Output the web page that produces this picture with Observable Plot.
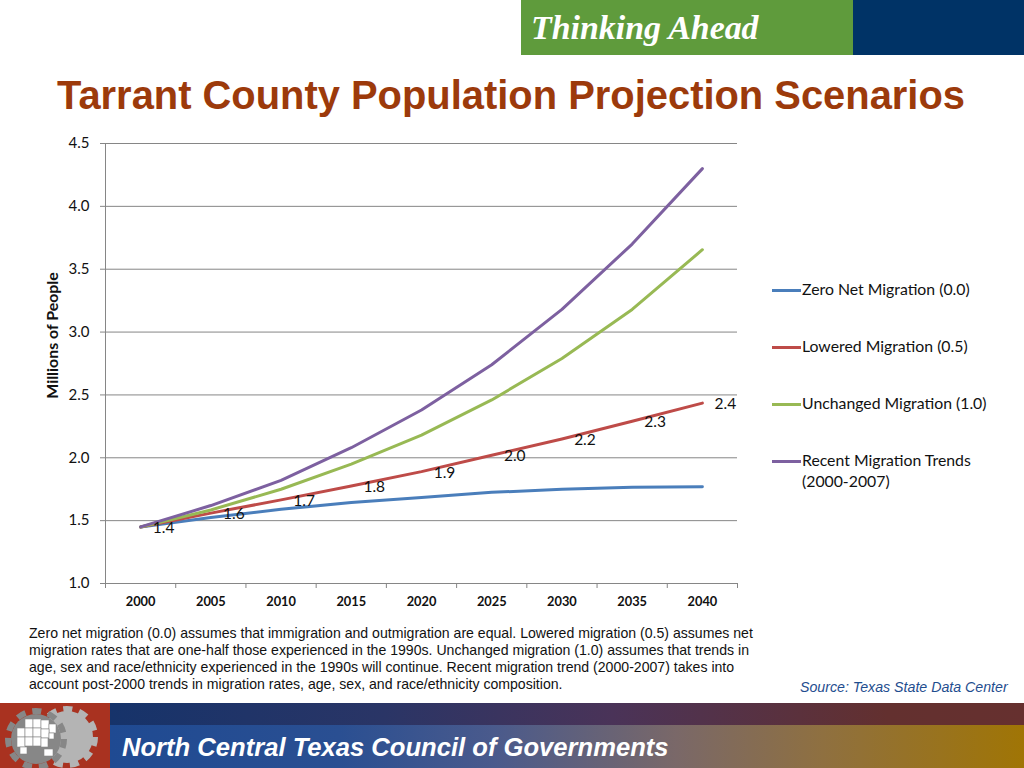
<!DOCTYPE html>
<html><head><meta charset="utf-8">
<script src="https://cdn.jsdelivr.net/npm/d3@7"></script>
<script src="https://cdn.jsdelivr.net/npm/@observablehq/plot@0.6"></script>
<style>
html,body{margin:0;padding:0;background:#fff;width:1024px;height:768px;overflow:hidden}
.a{position:absolute;white-space:nowrap}
#chart{position:absolute;left:0;top:130px}
#chart svg{display:block;background:transparent}
.leg{position:absolute;left:802px;font:15.8px/21px Lato,sans-serif;color:#111}
.sw{position:absolute;left:772px;width:29px;height:3px}
</style></head><body>
<div class="a" style="left:521px;top:0;width:332px;height:55px;background:#5f9b3c"></div>
<div class="a" style="left:853px;top:0;width:171px;height:55px;background:#003366"></div>
<div class="a" style="left:531px;top:9px;font:italic bold 33.9px 'Liberation Serif',serif;color:#fff">Thinking Ahead</div>
<div class="a" style="left:57px;top:73px;font:bold 39.9px 'Liberation Sans',Arial,sans-serif;color:#9c3a0b">Tarrant County Population Projection Scenarios</div>
<div id="chart"></div>
<div id="legend"></div>
<div class="a" style="left:29px;top:625px;font:14.1px/17.1px 'Liberation Sans',Arial,sans-serif;color:#111">Zero net migration (0.0) assumes that immigration and outmigration are equal. Lowered migration (0.5) assumes net<br>migration rates that are one-half those experienced in the 1990s. Unchanged migration (1.0) assumes that trends in<br>age, sex and race/ethnicity experienced in the 1990s will continue. Recent migration trend (2000-2007) takes into<br>account post-2000 trends in migration rates, age, sex, and race/ethnicity composition.</div>
<div class="a" style="left:800px;top:679px;font:italic 14.2px 'Liberation Sans',Arial,sans-serif;color:#1f4e8f">Source: Texas State Data Center</div>
<div class="a" style="left:110px;top:703px;width:914px;height:22px;background:linear-gradient(90deg,#16336a 0%,#2a3566 30%,#4a3358 55%,#63302f 85%,#66302f 100%)"></div>
<div class="a" style="left:110px;top:725px;width:914px;height:43px;background:linear-gradient(90deg,#1f4a92 0%,#2a4f92 25%,#4a5a8c 42%,#7a6868 62%,#8f7040 78%,#a07505 100%)"></div>
<div class="a" style="left:122px;top:733px;font:italic bold 25.6px 'Liberation Sans',Arial,sans-serif;color:#fff">North Central Texas Council of Governments</div>
<svg class="a" style="left:0;top:703px" width="110" height="65" viewBox="0 0 110 65">
<rect width="110" height="65" fill="#a93220"/>
<circle cx="67" cy="34" r="26" fill="#b4b4b4"/><circle cx="67" cy="34" r="28" fill="none" stroke="#b4b4b4" stroke-width="6" stroke-dasharray="9 7"/>
<circle cx="36" cy="36" r="25" fill="#878787"/><circle cx="36" cy="36" r="28" fill="none" stroke="#878787" stroke-width="6" stroke-dasharray="9 7"/>
<g fill="#fff" stroke="#878787" stroke-width=".6">
<rect x="25" y="16" width="8" height="9"/><rect x="33" y="16" width="8" height="9"/><rect x="41" y="17" width="8" height="9"/><rect x="49" y="21" width="7" height="9"/>
<rect x="17" y="25" width="8" height="9"/><rect x="25" y="25" width="8" height="9"/><rect x="33" y="25" width="8" height="9"/><rect x="41" y="26" width="8" height="9"/><rect x="49" y="30" width="5" height="6"/>
<rect x="17" y="34" width="8" height="10"/><rect x="25" y="34" width="8" height="9"/><rect x="33" y="34" width="8" height="9"/><rect x="41" y="35" width="7" height="9"/>
<rect x="20" y="44" width="7" height="7"/><rect x="44" y="46" width="9" height="7"/>
</g></svg>
<script>
const years = [2000,2005,2010,2015,2020,2025,2030,2035,2040];
const bandEdges = [1997.5,2002.5,2007.5,2012.5,2017.5,2022.5,2027.5,2032.5,2037.5,2042.5];
const zero = [1.45,1.525,1.59,1.645,1.685,1.725,1.75,1.765,1.77];
const lowered = [1.45,1.56,1.665,1.775,1.89,2.02,2.15,2.29,2.435];
const unchanged = [1.45,1.585,1.75,1.95,2.18,2.46,2.79,3.18,3.655];
const recent = [1.45,1.62,1.82,2.08,2.38,2.74,3.18,3.70,4.30];
const labels = ["1.4","1.6","1.7","1.8","1.9","2.0","2.2","2.3","2.4"];
const yTicks = [1,1.5,2,2.5,3,3.5,4,4.5];
const names = ["Zero Net Migration (0.0)","Lowered Migration (0.5)","Unchanged Migration (1.0)","Recent Migration Trends<br>(2000-2007)"];
const colors = ["#4a7ebb","#be4b48","#98b954","#7d60a0"];
const series = [zero,lowered,unchanged,recent];
const rows = series.flatMap((v,i)=>v.map((y,j)=>({year:years[j],value:y,s:i})));
const labelRows = years.map((y,i)=>({year:y,value:lowered[i],t:labels[i]}));
const grid="#868686";
const plot = Plot.plot({
  width:760,height:480,marginLeft:105,marginRight:23,marginTop:13,marginBottom:27,
  style:{fontFamily:"Lato,sans-serif",color:"#000",background:"transparent",overflow:"visible"},
  x:{type:"linear",domain:[1997.5,2042.5],label:null},
  y:{domain:[1,4.5],label:null},
  marks:[
    Plot.ruleY(yTicks,{stroke:grid,strokeWidth:1}),
    Plot.ruleX([1997.5],{stroke:grid,strokeWidth:1}),
    Plot.axisY({ticks:yTicks,tickSize:5,tickPadding:11,stroke:grid,fontSize:15,tickFormat:d3.format(".1f"),label:null,textStroke:"none",color:"#111"}),
    Plot.axisX(bandEdges,{tickSize:5,tickFormat:()=>"",label:null,stroke:grid}),
    Plot.axisX(years,{tickSize:0,tickPadding:13,fontSize:12.8,fontWeight:"bold",tickFormat:d3.format("d"),label:null,fill:"#111"}),
    Plot.text(["Millions of People"],{frameAnchor:"left",textAnchor:"middle",rotate:-90,dx:-53,dy:-28,fontSize:15.9,fontWeight:"bold",fill:"#111"}),
    Plot.line(rows,{x:"year",y:"value",z:"s",stroke:d=>colors[d.s],strokeWidth:3,curve:"linear"}),
    Plot.text(labelRows,{x:"year",y:"value",text:"t",dx:23,dy:1,fontSize:15.5,fill:"#111"})
  ]
});
document.getElementById("chart").appendChild(plot);
const lg=document.getElementById("legend");
[290,347,404,461].forEach((y,i)=>{
  lg.insertAdjacentHTML("beforeend",`<div class="sw" style="top:${y-1.5}px;background:${colors[i]}"></div><div class="leg" style="top:${y-12}px">${names[i]}</div>`);
});
</script>
</body></html>
